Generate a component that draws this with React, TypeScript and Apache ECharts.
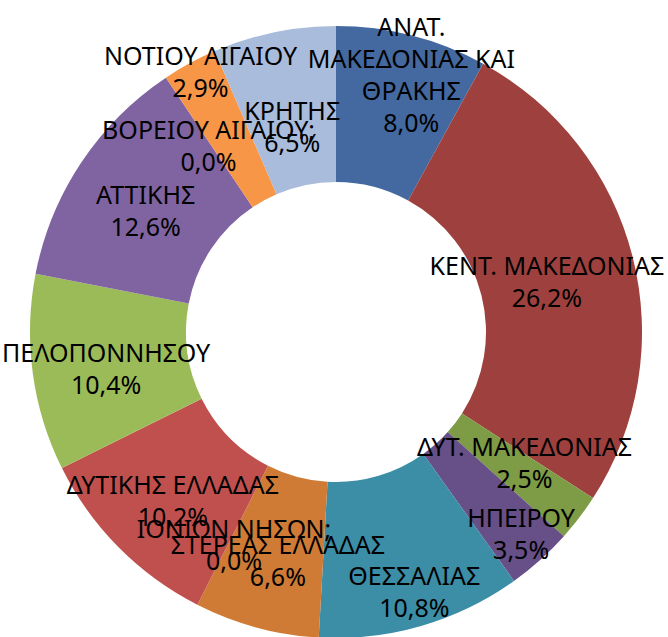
import React, { useEffect, useRef } from "react";
import * as echarts from "echarts";

const categories = [
  "ΑΝΑΤ. ΜΑΚΕΔΟΝΙΑΣ ΚΑΙ ΘΡΑΚΗΣ",
  "ΚΕΝΤ. ΜΑΚΕΔΟΝΙΑΣ",
  "ΔΥΤ. ΜΑΚΕΔΟΝΙΑΣ",
  "ΗΠΕΙΡΟΥ",
  "ΘΕΣΣΑΛΙΑΣ",
  "ΙΟΝΙΩΝ ΝΗΣΩΝ",
  "ΣΤΕΡΕΑΣ ΕΛΛΑΔΑΣ",
  "ΔΥΤΙΚΗΣ ΕΛΛΑΔΑΣ",
  "ΠΕΛΟΠΟΝΝΗΣΟΥ",
  "ΑΤΤΙΚΗΣ",
  "ΒΟΡΕΙΟΥ ΑΙΓΑΙΟΥ",
  "ΝΟΤΙΟΥ ΑΙΓΑΙΟΥ",
  "ΚΡΗΤΗΣ",
];

// label text as shown (wrapped)
const categoryLabels = [
  "ΑΝΑΤ.\nΜΑΚΕΔΟΝΙΑΣ ΚΑΙ\nΘΡΑΚΗΣ",
  "ΚΕΝΤ. ΜΑΚΕΔΟΝΙΑΣ",
  "ΔΥΤ. ΜΑΚΕΔΟΝΙΑΣ",
  "ΗΠΕΙΡΟΥ",
  "ΘΕΣΣΑΛΙΑΣ",
  "ΙΟΝΙΩΝ ΝΗΣΩΝ",
  "ΣΤΕΡΕΑΣ ΕΛΛΑΔΑΣ",
  "ΔΥΤΙΚΗΣ ΕΛΛΑΔΑΣ",
  "ΠΕΛΟΠΟΝΝΗΣΟΥ",
  "ΑΤΤΙΚΗΣ",
  "ΒΟΡΕΙΟΥ ΑΙΓΑΙΟΥ",
  "ΝΟΤΙΟΥ ΑΙΓΑΙΟΥ",
  "ΚΡΗΤΗΣ",
];

const shares = [8.0, 26.2, 2.5, 3.5, 10.8, 0.0, 6.6, 10.2, 10.4, 12.6, 0.0, 2.9, 6.5];

const sliceColors = [
  "#4369A0",
  "#9E413E",
  "#7E9B45",
  "#674F87",
  "#3C8DA6",
  "#DB843D",
  "#CF7B36",
  "#C0504D",
  "#9BBB59",
  "#8064A2",
  "#4BACC6",
  "#F79646",
  "#A9BCDB",
];

// label nudges from the default in-ring position
const labelNudges: [number, number][] = [
  [18, -34],
  [-13, 6],
  [5, -10],
  [31, 29],
  [14, 37],
  [-89, -19],
  [2, 5],
  [1, 5],
  [-1, 5],
  [2, 6],
  [1, 5],
  [-25, -58],
  [3, 20],
];

export default function App() {
  const ref = useRef<HTMLDivElement>(null);
  useEffect(() => {
    document.body.style.margin = "0";
    const chart = echarts.init(ref.current!, null, { renderer: "svg" });
    chart.setOption({
      animation: false,
      backgroundColor: "#ffffff",
      series: [
        {
          type: "pie",
          center: [336, 332],
          radius: [150, 306],
          startAngle: 90,
          clockwise: true,
          avoidLabelOverlap: false,
          minShowLabelAngle: 0,
          data: categories.map((name, i) => ({
            name,
            value: shares[i],
            itemStyle: { color: sliceColors[i] },
          })),
          itemStyle: { borderWidth: 0 },
          label: {
            show: true,
            position: "inside",
            rotate: 0,
            color: "#000000",
            fontFamily: "Noto Sans",
            fontSize: 25,
            lineHeight: 32,
            align: "center",
            formatter: (p: any) => {
              const lbl = categoryLabels[p.dataIndex] + (p.value === 0 ? ";" : "");
              return lbl + "\n" + Number(p.value).toFixed(1).replace(".", ",") + "%";
            },
          },
          labelLine: { show: false },
          labelLayout: (p: any) => ({
            dx: labelNudges[p.dataIndex][0],
            dy: labelNudges[p.dataIndex][1],
          }),
          emphasis: { disabled: true },
        },
      ],
    });
    return () => chart.dispose();
  }, []);
  return <div ref={ref} style={{ width: 668, height: 637 }} />;
}
